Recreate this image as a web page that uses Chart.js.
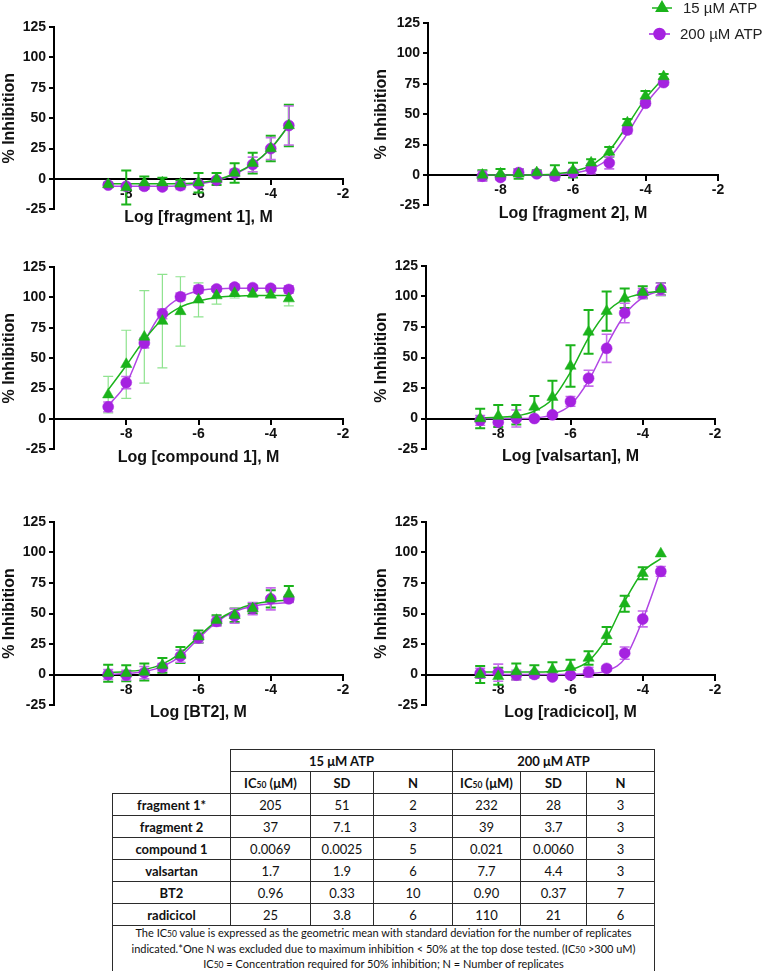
<!DOCTYPE html>
<html>
<head>
<meta charset="utf-8">
<script src="https://cdn.jsdelivr.net/npm/chart.js@4.4.0/dist/chart.umd.min.js"></script>
<style>
  body { margin: 0; background: #fff; width: 764px; height: 971px; position: relative; overflow: hidden; }
  canvas { position: absolute; }
  #tbl { position: absolute; left: 112px; top: 749px; border-collapse: collapse; table-layout: fixed;
         font-family: Lato, "Open Sans", sans-serif; font-size: 13px; color: #111; }
  #tbl td { border: 1.5px solid #2b2b2b; text-align: center; padding: 0; height: 21px; white-space: nowrap; }
  #tbl td.blank { border-top: none; border-left: none; }
  #tbl td.name, #tbl td.head { font-weight: bold; }
  #tbl td.note { font-size: 11px; line-height: 13.5px; height: 41px; }
  #tbl sub { font-size: 8.5px; vertical-align: baseline; }
</style>
</head>
<body>
<canvas id="p1" width="372" height="235" style="left:0;top:0"></canvas>
<canvas id="p2" width="392" height="235" style="left:372px;top:0"></canvas>
<canvas id="p3" width="372" height="235" style="left:0;top:240px"></canvas>
<canvas id="p4" width="392" height="235" style="left:372px;top:240px"></canvas>
<canvas id="p5" width="372" height="245" style="left:0;top:495px"></canvas>
<canvas id="p6" width="392" height="245" style="left:372px;top:495px"></canvas>
<table id="tbl"></table>
<script>
// log concentration of each dose
const logDose = [-8.5, -8, -7.5, -7, -6.5, -6, -5.5, -5, -4.5, -4, -3.5];

// fragment 1
const frag1Low = [-4.5, -7, -3, -3, -4, -3, 0, 5, 13, 25, 44];
const frag1LowSd = [1.5, 14, 5, 4, 3, 8, 5, 8, 8.5, 10.5, 17];
const frag1LowFit = [-4, -4, -4, -4, -3.8, -3, -0.8, 4.5, 12.5, 25, 44];
const frag1High = [-5, -6, -6, -6.5, -5.5, -4, -1, 5, 12, 25, 44];
const frag1HighSd = [1, 2, 2, 2, 3, 2, 2, 3, 6, 9, 16];
const frag1HighFit = [-6, -6, -6, -6, -5.5, -4, -1.5, 4, 12, 25, 44];

// fragment 2
const frag2Low = [0, 1, 1, 2, 2, 4, 10, 19, 43, 65, 81];
const frag2LowSd = [4, 4, 4, 2, 6, 6, 3, 4, 3, 4, 2];
const frag2LowFit = [0, 0, 0, 0.2, 0.8, 3, 8, 20, 41, 63, 80];
const frag2High = [-1, -2, 2, 1, -1, 2, 5, 10, 37, 59, 76];
const frag2HighSd = [4, 2, 3, 2, 3, 2, 4, 5, 3, 2, 2];
const frag2HighFit = [0, 0, 0, 0, 0.3, 1.5, 5, 14, 34, 58, 76];

// compound 1
const cmpd1Low = [20, 45, 67.5, 80.5, 88.5, 98, 101.5, 103.5, 103, 102, 99];
const cmpd1LowSd = [15, 28, 38, 38.5, 28.5, 14, 7, 4, 3, 2, 6];
const cmpd1LowFit = [24, 44, 65, 82, 92, 97, 100, 101, 101.5, 101.5, 101.5];
const cmpd1High = [10, 30, 62.5, 86.5, 100.5, 106.5, 107, 108.5, 108, 107.5, 106.5];
const cmpd1HighSd = [4, 5, 4, 4, 3, 3, 2, 2, 2, 2, 3];
const cmpd1HighFit = [11, 29, 63, 88, 100, 105.5, 107, 107.5, 107.5, 107.5, 107.5];

// valsartan
const valsLow = [0, 2, 3, 9.5, 17.5, 43, 71, 88, 98.5, 103.5, 106];
const valsLowSd = [8, 9, 8, 9, 13.5, 17, 18, 16, 8, 5, 5];
const valsLowFit = [0.5, 1, 2, 6, 16, 38, 66, 87, 98, 102.5, 104.5];
const valsHigh = [-1.5, -3, 0, 0, 3, 14, 33, 57.5, 86.5, 102.5, 106];
const valsHighSd = [4, 2, 7, 1, 1, 4, 6.5, 11.5, 8, 4, 5];
const valsHighFit = [0, 0, 0, 0.5, 3, 11, 31, 60, 85, 99, 105];

// BT2
const bt2Low = [1, 1, 2, 7.5, 16, 31, 44.5, 48.5, 54, 62, 66];
const bt2LowSd = [7, 6.5, 7, 6, 6.5, 5, 4, 5.5, 4, 7, 6.5];
const bt2LowFit = [1.5, 2.5, 4, 8.5, 17.5, 31, 44, 52.5, 57.5, 60, 61];
const bt2High = [0, -0.5, 1.5, 6, 15, 30, 43.5, 48, 54, 62, 62];
const bt2HighSd = [4, 4, 5, 3, 5, 4, 4, 6, 5, 9, 3];
const bt2HighFit = [0, 0.8, 2.5, 6.5, 15, 29.5, 43, 51.5, 56, 58, 59];

// radicicol
const radiLow = [0, -1.5, 2.5, 2.5, 4, 6, 13.5, 32, 58, 83, 99];
const radiLowSd = [7, 7, 6.5, 5, 6, 6, 5.5, 7, 6.5, 5, 0];
const radiLowFit = [2, 2, 2, 2, 2.5, 4, 11, 30, 60, 84, 95];
const radiHigh = [1, 1.5, -0.5, 0, -2, -0.5, 2, 5, 17.5, 45.5, 84.5];
const radiHighSd = [4, 7, 4, 2, 1, 1, 4, 2, 5, 6.5, 4];
const radiHighFit = [0, 0, 0, 0, 0, 0.2, 0.8, 3, 13, 45, 86];

const seriesNames = ['15 \u00b5M ATP', '200 \u00b5M ATP'];

// IC50 table
const compounds = ['fragment 1*', 'fragment 2', 'compound 1', 'valsartan', 'BT2', 'radicicol'];
const ic50Low = ['205', '37', '0.0069', '1.7', '0.96', '25'];
const sdLow = ['51', '7.1', '0.0025', '1.9', '0.33', '3.8'];
const nLow = ['2', '3', '5', '6', '10', '6'];
const ic50High = ['232', '39', '0.021', '7.7', '0.90', '110'];
const sdHigh = ['28', '3.7', '0.0060', '4.4', '0.37', '21'];
const nHigh = ['3', '3', '3', '3', '7', '6'];

const green = '#1bb31b';
const purple = '#a522e0';
const fam = 'Arial, "Liberation Sans", sans-serif';
const axisFont = { family: fam, size: 14, weight: 'bold' };

const pts = (ys) => logDose.map((x, i) => ({ x: x, y: ys[i] }));

const errorBars = {
  id: 'errorBars',
  beforeDatasetsDraw(chart) {
    const ctx = chart.ctx, xs = chart.scales.x, ys = chart.scales.y;
    chart.data.datasets.forEach(ds => {
      if (!ds.sd) return;
      ctx.save();
      ctx.strokeStyle = ds.barColor;
      ctx.lineWidth = ds.barWidth;
      ds.data.forEach((p, i) => {
        if (!ds.sd[i]) return;
        const px = xs.getPixelForValue(p.x);
        const top = ys.getPixelForValue(p.y + ds.sd[i]);
        const bot = ys.getPixelForValue(p.y - ds.sd[i]);
        ctx.beginPath();
        ctx.moveTo(px, top); ctx.lineTo(px, bot);
        ctx.moveTo(px - 5, top); ctx.lineTo(px + 5, top);
        ctx.moveTo(px - 5, bot); ctx.lineTo(px + 5, bot);
        ctx.stroke();
      });
      ctx.restore();
    });
  }
};

const atpLegend = {
  id: 'atpLegend',
  afterDraw(chart) {
    const ctx = chart.ctx;
    const rows = [
      { color: green, style: 'triangle', r: 6.5, x0: 280, x1: 300, y: 8, tx: 311 },
      { color: purple, style: 'circle', r: 5.5, x0: 277, x1: 298, y: 34, tx: 308 }
    ];
    ctx.save();
    rows.forEach((r, i) => {
      ctx.strokeStyle = r.color; ctx.fillStyle = r.color; ctx.lineWidth = 1.5;
      ctx.beginPath(); ctx.moveTo(r.x0, r.y); ctx.lineTo(r.x1, r.y); ctx.stroke();
      Chart.helpers.drawPoint(ctx, { pointStyle: r.style, radius: r.r, rotation: 0, borderWidth: 0.5 }, (r.x0 + r.x1) / 2, r.y);
      ctx.fillStyle = '#222';
      ctx.font = '15px ' + fam;
      ctx.textBaseline = 'middle';
      ctx.fillText(seriesNames[i], r.tx, r.y + 1);
    });
    ctx.restore();
  }
};

function makePanel(id, title, low, lowSd, lowFit, high, highSd, highFit, area, opts) {
  opts = opts || {};
  const chart = new Chart(document.getElementById(id), {
    type: 'scatter',
    data: {
      datasets: [
        { label: seriesNames[0], data: pts(low), sd: lowSd, barColor: opts.lowBar || green, barWidth: opts.lowBarWidth || 2,
          pointStyle: 'triangle', pointRadius: 6.5, backgroundColor: green, borderColor: green, borderWidth: 0.5, order: 0 },
        { label: seriesNames[1], data: pts(high), sd: highSd, barColor: '#c66bec', barWidth: 1.6,
          pointStyle: 'circle', pointRadius: 5.5, backgroundColor: purple, borderColor: purple, borderWidth: 0.5, order: 1 },
        { type: 'line', data: pts(lowFit), borderColor: green, borderWidth: 1.5, pointRadius: 0,
          cubicInterpolationMode: 'monotone', fill: false, order: 2 },
        { type: 'line', data: pts(highFit), borderColor: '#b044e4', borderWidth: 1.5, pointRadius: 0,
          cubicInterpolationMode: 'monotone', fill: false, order: 3 }
      ]
    },
    options: {
      responsive: false,
      animation: false,
      devicePixelRatio: 1,
      layout: { padding: { left: 0, top: area.top, right: 0, bottom: 20 } },
      plugins: { legend: { display: false }, tooltip: { enabled: false } },
      scales: {
        x: {
          type: 'linear', min: -10, max: -2, position: { y: 0 },
          border: { color: '#000', width: 2 },
          grid: { drawOnChartArea: false, drawTicks: true, tickLength: 5, color: '#000', lineWidth: 2 },
          ticks: { stepSize: 2, color: '#111', font: axisFont, padding: 2, maxRotation: 0,
                   callback: v => (v === -10 ? '' : v) },
          title: { display: true, text: title, color: '#111', padding: { top: 3, bottom: 0 },
                   font: { family: fam, size: 16, weight: 'bold' } }
        },
        y: {
          min: -25, max: 125,
          border: { color: '#000', width: 2 },
          grid: { drawOnChartArea: false, drawTicks: true, tickLength: 5, color: '#000', lineWidth: 2 },
          ticks: { stepSize: 25, color: '#111', font: axisFont, padding: 3 },
          title: { display: true, text: '% Inhibition', color: '#111', padding: 0,
                   font: { family: fam, size: 16, weight: 'bold' } },
          afterFit: s => { s.width = area.left; }
        }
      }
    },
    plugins: opts.legend ? [errorBars, atpLegend] : [errorBars]
  });
  // nudge the padding so the plot area lands where the figure has it
  for (let k = 0; k < 3; k++) {
    const a = chart.chartArea;
    const p = chart.config.options.layout.padding;
    chart.config.options.layout.padding = {
      left: p.left + (area.left - a.left),
      top: p.top + (area.top - a.top),
      right: p.right + (a.right - area.right),
      bottom: p.bottom + (a.bottom - area.bottom)
    };
    chart.update('none');
  }
  return chart;
}

makePanel('p1', 'Log [fragment 1], M', frag1Low, frag1LowSd, frag1LowFit, frag1High, frag1HighSd, frag1HighFit,
  { left: 54, top: 27, right: 343, bottom: 209.4 });
makePanel('p2', 'Log [fragment 2], M', frag2Low, frag2LowSd, frag2LowFit, frag2High, frag2HighSd, frag2HighFit,
  { left: 56, top: 23, right: 346, bottom: 205.4 }, { legend: true });
makePanel('p3', 'Log [compound 1], M', cmpd1Low, cmpd1LowSd, cmpd1LowFit, cmpd1High, cmpd1HighSd, cmpd1HighFit,
  { left: 54, top: 27, right: 343, bottom: 209.4 }, { lowBar: '#8fe38f', lowBarWidth: 1.2 });
makePanel('p4', 'Log [valsartan], M', valsLow, valsLowSd, valsLowFit, valsHigh, valsHighSd, valsHighFit,
  { left: 54, top: 26, right: 343, bottom: 209 });
makePanel('p5', 'Log [BT2], M', bt2Low, bt2LowSd, bt2LowFit, bt2High, bt2HighSd, bt2HighFit,
  { left: 54, top: 27, right: 343, bottom: 210 });
makePanel('p6', 'Log [radicicol], M', radiLow, radiLowSd, radiLowFit, radiHigh, radiHighSd, radiHighFit,
  { left: 54, top: 27, right: 343, bottom: 210 });

// table
const colW = [118, 80, 63, 79, 68, 66, 68];
let html = '<colgroup>' + colW.map(w => '<col style="width:' + w + 'px">').join('') + '</colgroup>';
html += '<tr><td class="blank" rowspan="2"></td><td class="head" colspan="3">15 \u03bcM ATP</td><td class="head" colspan="3">200 \u03bcM ATP</td></tr>';
const ic = 'IC<sub>50</sub> (\u03bcM)';
html += '<tr><td class="head">' + ic + '</td><td class="head">SD</td><td class="head">N</td><td class="head">' + ic + '</td><td class="head">SD</td><td class="head">N</td></tr>';
compounds.forEach((c, i) => {
  html += '<tr><td class="name">' + c + '</td><td>' + ic50Low[i] + '</td><td>' + sdLow[i] + '</td><td>' + nLow[i] +
          '</td><td>' + ic50High[i] + '</td><td>' + sdHigh[i] + '</td><td>' + nHigh[i] + '</td></tr>';
});
html += '<tr><td class="note" colspan="7">The IC<sub>50</sub> value is expressed as the geometric mean with standard deviation for the number of replicates<br>' +
        'indicated.*One N was excluded due to maximum inhibition &lt; 50% at the top dose tested. (IC<sub>50</sub> &gt;300 uM)<br>' +
        'IC<sub>50</sub> = Concentration required for 50% inhibition; N = Number of replicates</td></tr>';
document.getElementById('tbl').innerHTML = html;
</script>
</body>
</html>
